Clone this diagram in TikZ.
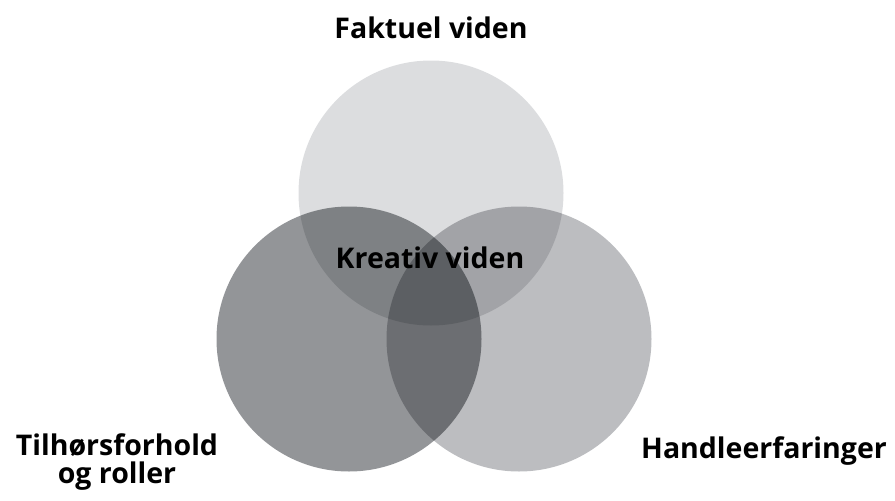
\documentclass[tikz,border=0pt]{standalone}
\usepackage{fontspec}
\setmainfont{Open Sans}
\usetikzlibrary{positioning}

\newcommand\MYradius{132.5}
\definecolor{factgray}{RGB}{220,221,223}
\definecolor{rolegray}{RGB}{147,149,152}
\definecolor{actgray}{RGB}{188,189,192}

\begin{document}
\begin{tikzpicture}[x=1pt,y=-1pt,
  label text/.style={font=\fontsize{28.5}{28}\selectfont\bfseries, align=center, anchor=base}]

\useasboundingbox (0,0) rectangle (895,501);

\coordinate (CT) at (431,193);
\coordinate (CL) at (349,339);
\coordinate (CR) at (519,339);

\begin{scope}[blend group=multiply]
 \fill[factgray] (CT) circle (\MYradius);
 \fill[rolegray] (CL) circle (\MYradius);
 \fill[actgray] (CR) circle (\MYradius);
\end{scope}

\node[label text] (fact) at (431,38) {Faktuel viden};
\node[label text] (creative) at (430,268) {Kreativ viden};
\node[label text] (role) at (117,483) {Tilhørsforhold\\og roller};
\node[label text] (act) at (764,458) {Handleerfaringer};

\end{tikzpicture}
\end{document}
